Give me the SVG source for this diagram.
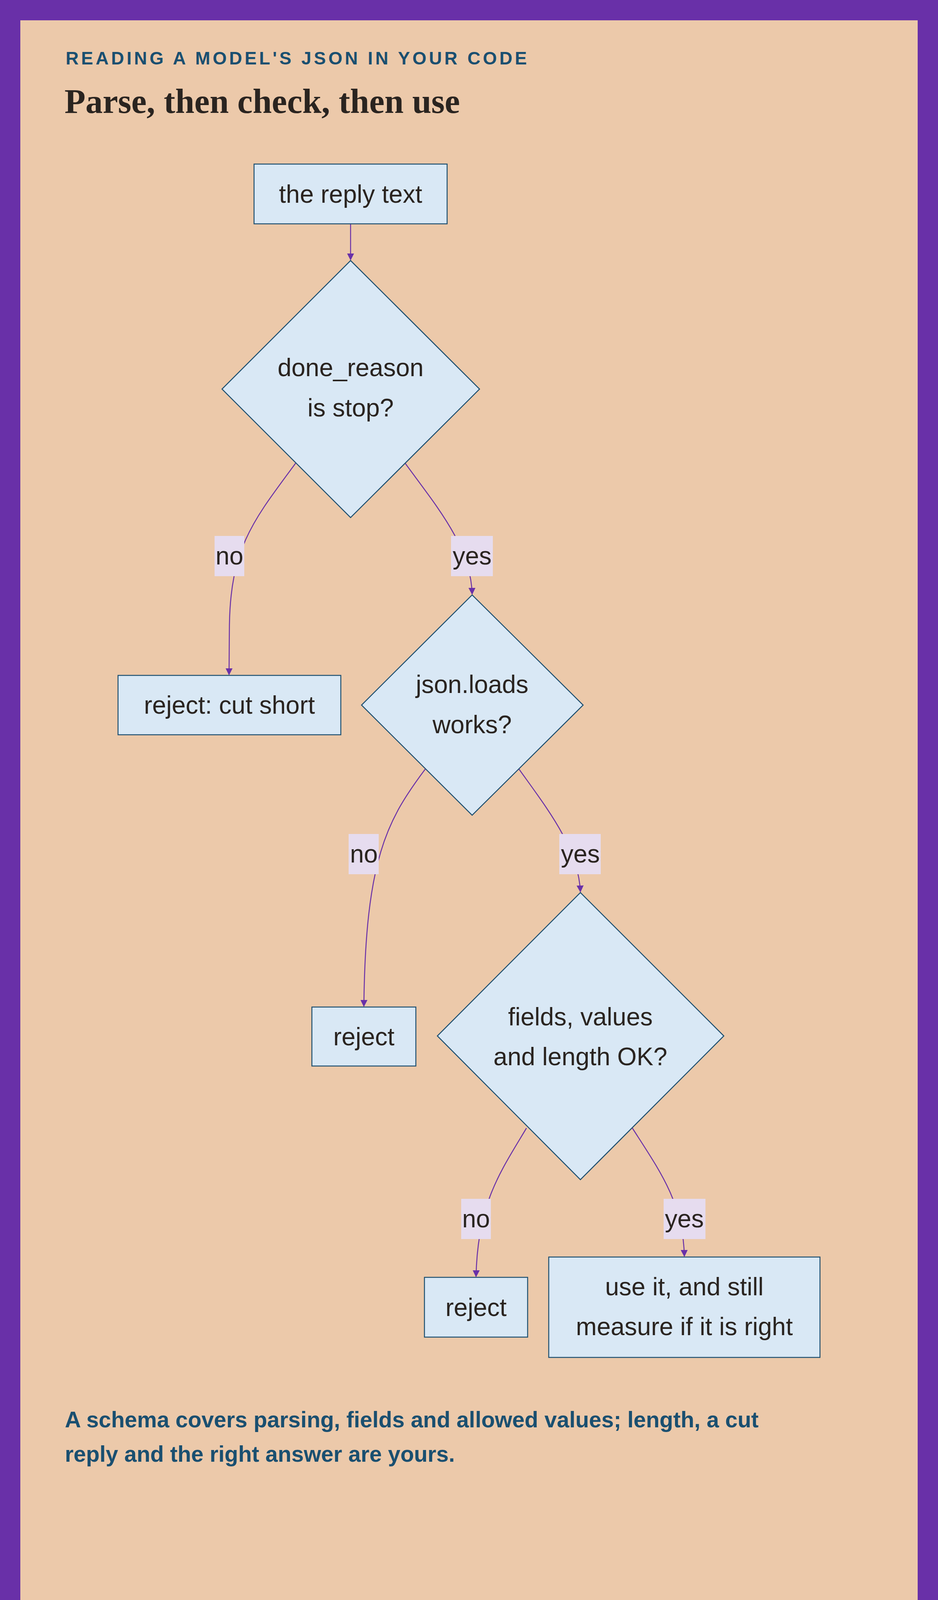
<svg xmlns="http://www.w3.org/2000/svg" width="2400" height="4300" viewBox="0 0 2400 4300">
<defs>
<style>
.node{fill:#d9e8f5;stroke:#1f5070;stroke-width:2.5}
.t{font-family:"Liberation Sans",Arial,sans-serif;font-size:64px;fill:#2a2420;text-anchor:middle}
.lb{fill:#e6dcef}
.e{fill:none;stroke:#6930a8;stroke-width:2.5}
</style>
<marker id="ah" viewBox="0 0 10 10" refX="9" refY="5" markerWidth="18" markerHeight="18" markerUnits="userSpaceOnUse" orient="auto"><path d="M0,0 L10,5 L0,10 z" fill="#6930a8"/></marker>
</defs>
<rect x="0" y="0" width="2400" height="4300" fill="#6930a8"/>
<rect x="52" y="52" width="2296" height="4196" fill="#ecc9aa"/>
<text x="168" y="165" font-family="Liberation Sans,Arial,sans-serif" font-weight="bold" font-size="46" fill="#1a4f70" textLength="1180" lengthAdjust="spacing">READING A MODEL'S JSON IN YOUR CODE</text>
<text x="165" y="289" font-family="Liberation Serif,Times New Roman,serif" font-weight="bold" font-size="88" fill="#2a2420">Parse, then check, then use</text>
<g id="connectors">
<path class="e" d="M897,573 L897,665" marker-end="url(#ah)"/>
<path class="e" d="M757,1185 C650,1330 590,1400 587,1600 L586,1727" marker-end="url(#ah)"/>
<path class="e" d="M1036,1185 C1120,1300 1205,1400 1208,1521" marker-end="url(#ah)"/>
<path class="e" d="M1088,1969 C990,2100 935,2200 931,2576" marker-end="url(#ah)"/>
<path class="e" d="M1328,1969 C1400,2070 1480,2170 1485,2283" marker-end="url(#ah)"/>
<path class="e" d="M1347,2888 C1280,3000 1222,3080 1218,3268" marker-end="url(#ah)"/>
<path class="e" d="M1618,2888 C1690,3000 1748,3080 1751,3216" marker-end="url(#ah)"/>
<rect class="lb" x="549" y="1372" width="76" height="103"/><text class="t" x="587" y="1445">no</text>
<rect class="lb" x="1154" y="1372" width="107" height="103"/><text class="t" x="1208" y="1445">yes</text>
<rect class="lb" x="892" y="2135" width="77" height="103"/><text class="t" x="931" y="2208">no</text>
<rect class="lb" x="1431" y="2135" width="106" height="103"/><text class="t" x="1485" y="2208">yes</text>
<rect class="lb" x="1180" y="3069" width="76" height="103"/><text class="t" x="1218" y="3142">no</text>
<rect class="lb" x="1698" y="3069" width="107" height="103"/><text class="t" x="1751" y="3142">yes</text>
</g>
<g id="reply"><rect class="node" x="650" y="420" width="494" height="153"/><text class="t" x="897" y="519">the reply text</text></g>
<g id="d1"><polygon class="node" points="897,667 1227,996 897,1325 568,996"/><text class="t" x="897" y="963">done_reason</text><text class="t" x="897" y="1066">is stop?</text></g>
<g id="cut"><rect class="node" x="302" y="1729" width="570" height="152"/><text class="t" x="587" y="1827">reject: cut short</text></g>
<g id="d2"><polygon class="node" points="1208,1523 1492,1805 1208,2087 925,1805"/><text class="t" x="1208" y="1774">json.loads</text><text class="t" x="1208" y="1877">works?</text></g>
<g id="rej2"><rect class="node" x="798" y="2578" width="266" height="151"/><text class="t" x="931" y="2676">reject</text></g>
<g id="d3"><polygon class="node" points="1485,2285 1852,2652 1485,3020 1119,2652"/><text class="t" x="1485" y="2625">fields, values</text><text class="t" x="1485" y="2727">and length OK?</text></g>
<g id="rej3"><rect class="node" x="1086" y="3270" width="264" height="153"/><text class="t" x="1218" y="3369">reject</text></g>
<g id="use"><rect class="node" x="1404" y="3218" width="694" height="257"/><text class="t" x="1751" y="3316">use it, and still</text><text class="t" x="1751" y="3418">measure if it is right</text></g>
<g font-family="Liberation Sans,Arial,sans-serif" font-weight="bold" font-size="57" fill="#1a4f70">
<text x="166" y="3654">A schema covers parsing, fields and allowed values; length, a cut</text>
<text x="166" y="3742">reply and the right answer are yours.</text>
</g>
<rect x="166" y="4156" width="26" height="26" fill="#1a4f70"/>
<text x="211" y="4183" font-family="Liberation Sans,Arial,sans-serif" font-weight="bold" font-size="44" fill="#1a4f70" textLength="771" lengthAdjust="spacing">SYSTEMDESIGN.ACADEMY</text>
</svg>
